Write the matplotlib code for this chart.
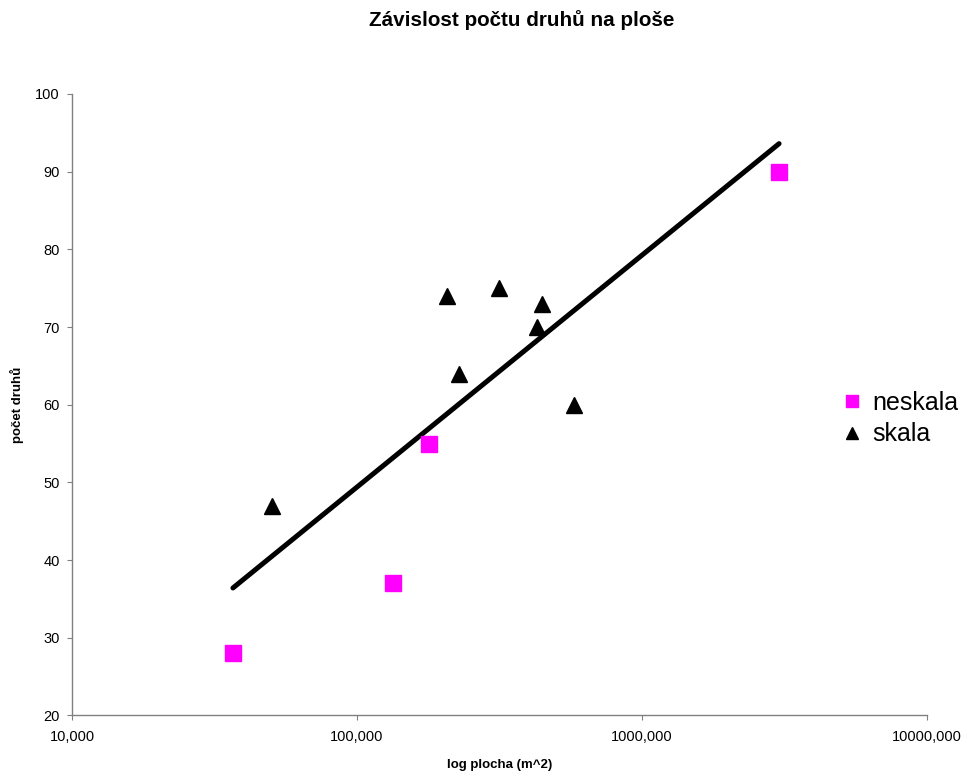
import numpy as np
import matplotlib.pyplot as plt
from matplotlib.ticker import FixedLocator, FixedFormatter, NullLocator

plt.rcParams['font.family'] = ['Liberation Sans', 'DejaVu Sans']

# plocha (m^2) a pocet druhu
neskala_x = [36700, 133700, 179000, 3027000]
neskala_y = [28, 37, 55, 90]
skala_x = [50300, 207000, 228000, 315000, 428000, 446000, 577000]
skala_y = [47, 74, 64, 75, 70, 73, 60]

x_ticks = [1e4, 1e5, 1e6, 1e7]
x_labels = ['10,000', '100,000', '1000,000', '10000,000']
y_ticks = list(range(20, 101, 10))

fig = plt.figure(figsize=(9.64, 7.74), dpi=100)
ax = fig.add_axes([0.0747, 0.0756, 0.8869, 0.803])

# logaritmicky trend pres vsechny body
all_x = np.array(neskala_x + skala_x, dtype=float)
all_y = np.array(neskala_y + skala_y, dtype=float)
b, a = np.polyfit(np.log10(all_x), all_y, 1)
tx = np.array([all_x.min(), all_x.max()])
ax.plot(tx, a + b * np.log10(tx), color='black', lw=3.6, solid_capstyle='round', zorder=2)

ax.plot(neskala_x, neskala_y, ls='none', marker='s', ms=11.5, color='#ff00ff',
        label='neskala', zorder=3)
ax.plot(skala_x, skala_y, ls='none', marker='^', ms=11.5, color='black',
        label='skala', zorder=3)

ax.set_xscale('log')
ax.set_xlim(1e4, 1e7)
ax.set_ylim(20, 100)
ax.xaxis.set_major_locator(FixedLocator(x_ticks))
ax.xaxis.set_major_formatter(FixedFormatter(x_labels))
ax.xaxis.set_minor_locator(NullLocator())
ax.set_yticks(y_ticks)

for s in ['top', 'right']:
    ax.spines[s].set_visible(False)
for s in ['left', 'bottom']:
    ax.spines[s].set_color('#808080')
    ax.spines[s].set_linewidth(1)
ax.tick_params(axis='both', direction='out', length=3.5, color='#808080',
               labelsize=10.5)
ax.tick_params(axis='x', pad=7)
ax.tick_params(axis='y', pad=5.5)

ax.set_xlabel('log plocha (m^2)', fontsize=9.5, fontweight='bold')
ax.set_ylabel('počet druhů', fontsize=9.5, fontweight='bold')
ax.xaxis.set_label_coords(0.5, -0.070)
ax.yaxis.set_label_coords(-0.056, 0.5)
fig.text(0.541, 0.974, 'Závislost počtu druhů na ploše', fontsize=14.9,
         fontweight='bold', ha='center', va='center')

fig.legend(loc='center left', bbox_to_anchor=(0.876, 0.4593), frameon=False,
           fontsize=18, markerscale=0.7, handlelength=0.6, handletextpad=0.5,
           labelspacing=0.3, borderpad=0, borderaxespad=0)

fig.savefig('out.png', dpi=100)
